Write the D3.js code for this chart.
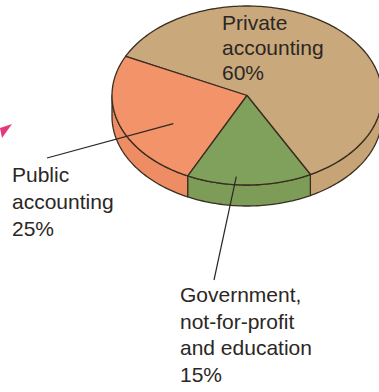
<!DOCTYPE html>
<html>
<head>
<meta charset="utf-8">
<script src="https://cdn.jsdelivr.net/npm/d3@7"></script>
<style>
	body { margin: 0; background: #fff; }
	svg text { font-family: "Liberation Sans", Arial, Helvetica, sans-serif; font-size: 21px; fill: #2b2724; }
</style>
</head>
<body>
<div id="chartDiv"></div>
<script>
// data
var categories = ["Private accounting", "Public accounting", "Government, not-for-profit and education"];
var shares = [60, 25, 15];
var labelLines = [
	["Private", "accounting", "60%"],
	["Public", "accounting", "25%"],
	["Government,", "not-for-profit", "and education", "15%"]
];
var topColors = ["#c9a87b", "#f3936a", "#80a15c"];
var sideColors = ["#c6a475", "#ee8d63", "#7d9c58"];

// layout of the tilted pie
var width = 379, height = 392;
var cx = 247, cy = 95.5, rx = 135, ry = 89.5, depth = 21;
var startDeg = 152;  // d3 angle where Private begins, going anticlockwise

// label positions (layout), leader inner end given as angle offset / radius fraction
var labelPos = [
	{x: 222, y: 30, lh: 25, leader: null},
	{x: 12, y: 182, lh: 27, leader: {dt: -11, r: 0.63, x: 47, y: 158}},
	{x: 180, y: 302, lh: 26.7, leader: {dt: 6, r: 0.91, x: 214, y: 280}}
];

var svg = d3.select("#chartDiv").append("svg")
	.attr("width", width).attr("height", height);

// point on the unit disc (theta clockwise from +x) to the screen
function project(theta, r, z) {
	return [cx + rx * r * Math.cos(theta), cy + ry * r * Math.sin(theta) + z];
}

var pie = d3.pie().sort(null)
	.startAngle(startDeg * Math.PI / 180)
	.endAngle((startDeg - 360) * Math.PI / 180);
var arcs = pie(shares);

arcs.forEach(function(d, i) {
	var a = d.startAngle - Math.PI / 2, b = d.endAngle - Math.PI / 2;
	d.t0 = Math.min(a, b);
	d.t1 = Math.max(a, b);
	d.color = topColors[i];
	d.side = sideColors[i];
});

function arcPoints(t0, t1, r, z) {
	var n = Math.max(2, Math.ceil((t1 - t0) / 0.02));
	return d3.range(n + 1).map(function(k) { return project(t0 + (t1 - t0) * k / n, r, z); });
}

var line = d3.line();

// sides: only the front half (theta in 0..pi) shows
var sides = [];
arcs.forEach(function(d) {
	[-1, 0, 1].forEach(function(k) {
		var s = Math.max(d.t0 + 2 * Math.PI * k, 0), e = Math.min(d.t1 + 2 * Math.PI * k, Math.PI);
		if (e > s) sides.push({s: s, e: e, d: d});
	});
});

svg.append("g").selectAll("path")
	.data(sides)
	.enter().append("path")
	.attr("d", function(p) {
		var pts = arcPoints(p.s, p.e, 1, 0).concat(arcPoints(p.s, p.e, 1, depth).reverse());
		return line(pts) + "Z";
	})
	.attr("fill", function(p) { return p.d.side; })
	.attr("stroke", "#3a2e22")
	.attr("stroke-width", 1.3)
	.attr("stroke-linejoin", "round");

svg.append("g").selectAll("path")
	.data(arcs)
	.enter().append("path")
	.attr("d", function(d) {
		var pts = [project(0, 0, 0)].concat(arcPoints(d.t0, d.t1, 1, 0));
		return line(pts) + "Z";
	})
	.attr("fill", function(d) { return d.color; })
	.attr("stroke", "#3a2e22")
	.attr("stroke-width", 1.3)
	.attr("stroke-linejoin", "round");

// leader lines
arcs.forEach(function(d, i) {
	var lp = labelPos[i].leader;
	if (!lp) return;
	var mid = (d.t0 + d.t1) / 2 + lp.dt * Math.PI / 180;
	var p = project(mid, lp.r, 0);
	svg.append("line")
		.attr("x1", p[0]).attr("y1", p[1])
		.attr("x2", lp.x).attr("y2", lp.y)
		.attr("stroke", "#2b2724")
		.attr("stroke-width", 1.2);
});

// labels
labelLines.forEach(function(lines, i) {
	var t = svg.append("text").attr("class", "label");
	lines.forEach(function(s, j) {
		t.append("tspan")
			.attr("x", labelPos[i].x)
			.attr("y", labelPos[i].y + j * labelPos[i].lh)
			.text(s);
	});
});

// small magenta pointer at the left margin
svg.append("path")
	.attr("d", "M0,128 L12,124 L2,138 Z")
	.attr("fill", "#e33a7d");
</script>
</body>
</html>
